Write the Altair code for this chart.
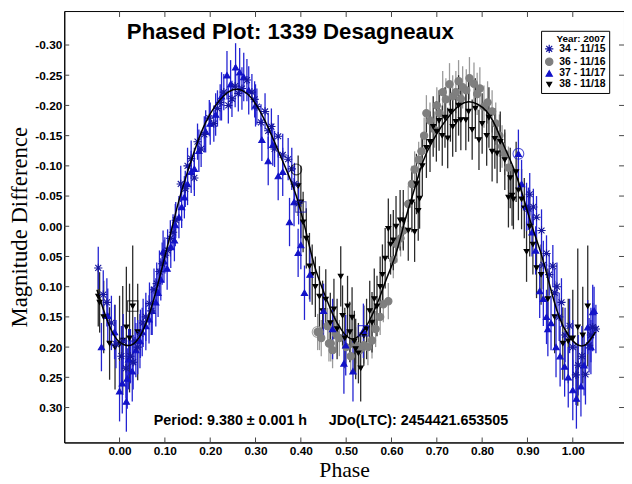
import altair as alt
import pandas as pd

# ---------------- data ----------------
series_names = ["34 - 11/15", "36 - 11/16", "37 - 11/17", "38 - 11/18"]

# 34 - 11/15 (blue asterisks)
ph_34 = [-0.047, -0.036, -0.028, -0.018, -0.008, 0.004, 0.008, 0.014, 0.024, 0.030, 0.034, 0.040,
         0.046, 0.052, 0.058, 0.066, 0.070, 0.076, 0.082, 0.088, 0.094, 0.100, 0.106, 0.112, 0.118,
         0.124, 0.135, 0.145, 0.150, 0.158, 0.165, 0.172, 0.180, 0.187, 0.198, 0.208, 0.216, 0.222,
         0.230, 0.240, 0.248, 0.255, 0.262, 0.270, 0.281, 0.292, 0.298, 0.303, 0.312, 0.321, 0.328,
         0.335, 0.342, 0.350, 0.360, 0.372, 0.380, 0.386, 0.395,
         0.902, 0.905, 0.913, 0.920, 0.931, 0.935, 0.942, 0.948, 0.956, 0.960, 0.965, 0.970, 0.975,
         0.983, 0.993, 1.000, 1.007, 1.012, 1.020, 1.028, 1.036, 1.040, 1.044, 1.051]
mg_34 = [0.069, 0.113, 0.126, 0.160, 0.195, 0.215, 0.190, 0.235, 0.215, 0.225, 0.190, 0.200,
         0.178, 0.160, 0.150, 0.128, 0.140, 0.105, 0.095, 0.075, 0.062, 0.048, 0.040, 0.020, 0.010,
         -0.010, -0.070, -0.062, -0.100, -0.112, -0.080, -0.140, -0.128, -0.152, -0.179, -0.170, -0.195, -0.205,
         -0.222, -0.200, -0.211, -0.232, -0.220, -0.228, -0.242, -0.222, -0.210, -0.198, -0.172, -0.190, -0.158,
         -0.165, -0.128, -0.149, -0.118, -0.111, -0.095, -0.070, -0.038,
         -0.029, -0.053, -0.032, -0.015, 0.007, 0.064, 0.045, 0.080, 0.066, 0.110, 0.100, 0.150, 0.126,
         0.180, 0.165, 0.200, 0.246, 0.230, 0.215, 0.245, 0.197, 0.180, 0.167, 0.170]
er_34 = [0.035, 0.040, 0.040, 0.045, 0.040, 0.050, 0.045, 0.050, 0.045, 0.045, 0.040, 0.045,
         0.040, 0.040, 0.040, 0.035, 0.040, 0.035, 0.035, 0.035, 0.035, 0.030, 0.035, 0.030, 0.030,
         0.030, 0.030, 0.030, 0.030, 0.030, 0.030, 0.030, 0.030, 0.030, 0.030, 0.030, 0.030, 0.030,
         0.030, 0.030, 0.030, 0.035, 0.030, 0.035, 0.035, 0.030, 0.030, 0.030, 0.030, 0.030, 0.030,
         0.030, 0.030, 0.035, 0.035, 0.035, 0.035, 0.035, 0.035,
         0.035, 0.035, 0.030, 0.035, 0.035, 0.040, 0.030, 0.035, 0.035, 0.040, 0.040, 0.040, 0.040,
         0.045, 0.045, 0.045, 0.050, 0.050, 0.050, 0.050, 0.045, 0.045, 0.040, 0.040]

# 36 - 11/16 (grey circles)
ph_36 = [0.437, 0.441, 0.445, 0.459, 0.462, 0.466, 0.470, 0.477, 0.485, 0.500, 0.510, 0.521, 0.530,
         0.539, 0.548, 0.557, 0.565, 0.575, 0.582, 0.593, 0.604, 0.612, 0.620, 0.626, 0.637, 0.645,
         0.651, 0.660, 0.666, 0.672, 0.677, 0.685, 0.695, 0.700, 0.706, 0.713, 0.720, 0.728, 0.735,
         0.742, 0.748, 0.753, 0.757, 0.765, 0.772, 0.782, 0.789, 0.795, 0.804, 0.812, 0.822, 0.830,
         0.838, 0.844, 0.850, 0.858]
mg_36 = [0.175, 0.175, 0.185, 0.165, 0.194, 0.194, 0.205, 0.178, 0.185, 0.200, 0.215, 0.197, 0.205,
         0.197, 0.200, 0.189, 0.170, 0.150, 0.129, 0.124, 0.056, 0.030, 0.020, 0.007, -0.037, -0.070,
         -0.094, -0.110, -0.124, -0.150, -0.187, -0.175, -0.160, -0.200, -0.187, -0.222, -0.210, -0.235, -0.215,
         -0.222, -0.240, -0.211, -0.230, -0.225, -0.245, -0.236, -0.219, -0.228, -0.198, -0.205, -0.190, -0.170,
         -0.150, -0.132, -0.120, -0.097]
er_36 = [0.030, 0.030, 0.030, 0.030, 0.030, 0.030, 0.030, 0.030, 0.030, 0.030, 0.030, 0.030, 0.030,
         0.030, 0.030, 0.030, 0.030, 0.030, 0.030, 0.030, 0.030, 0.030, 0.030, 0.030, 0.030, 0.030,
         0.030, 0.030, 0.030, 0.030, 0.030, 0.030, 0.030, 0.030, 0.030, 0.035, 0.035, 0.035, 0.035,
         0.035, 0.035, 0.035, 0.035, 0.035, 0.035, 0.035, 0.035, 0.035, 0.035, 0.035, 0.035, 0.035,
         0.035, 0.035, 0.035, 0.035]

# 37 - 11/17 (blue up-triangles)
ph_37 = [-0.040, -0.026, -0.011, 0.000, 0.006, 0.015, 0.017, 0.020, 0.028, 0.036, 0.045, 0.050,
         0.058, 0.065, 0.072, 0.080, 0.085, 0.091, 0.096, 0.098, 0.105, 0.113, 0.121, 0.123, 0.131,
         0.137, 0.143, 0.150, 0.158, 0.165, 0.175, 0.190, 0.200, 0.212, 0.225, 0.237, 0.245, 0.256,
         0.265, 0.274, 0.285, 0.300, 0.314, 0.328, 0.338, 0.350, 0.360, 0.375, 0.385, 0.394, 0.400,
         0.408, 0.420, 0.450, 0.470, 0.495, 0.499, 0.515, 0.538,
         0.880, 0.887, 0.898, 0.910, 0.918, 0.927, 0.935, 0.942, 0.945, 0.952, 0.963, 0.972, 0.982,
         0.990, 1.000, 1.008, 1.018, 1.025, 1.033, 1.040, 1.044, 1.047]
mg_37 = [0.200, 0.148, 0.175, 0.273, 0.260, 0.290, 0.252, 0.220, 0.240, 0.205, 0.190, 0.175,
         0.165, 0.154, 0.140, 0.126, 0.110, 0.088, 0.042, 0.058, 0.070, 0.034, 0.023, -0.002, -0.015,
         -0.032, -0.048, -0.070, -0.090, -0.095, -0.125, -0.157, -0.170, -0.185, -0.215, -0.250, -0.235, -0.263,
         -0.255, -0.247, -0.225, -0.200, -0.143, -0.108, -0.135, -0.083, -0.090, -0.007, -0.040, 0.044, 0.031,
         0.110, 0.080, 0.140, 0.170, 0.227, 0.197, 0.240, 0.173,
         -0.120, -0.070, -0.032, 0.010, 0.040, 0.107, 0.120, 0.150, 0.170, 0.160, 0.200, 0.215, 0.232,
         0.250, 0.271, 0.285, 0.265, 0.230, 0.167, 0.200, 0.142, 0.140]
er_37 = [0.040, 0.045, 0.045, 0.050, 0.050, 0.050, 0.050, 0.050, 0.050, 0.045, 0.045, 0.040,
         0.040, 0.040, 0.040, 0.040, 0.040, 0.035, 0.035, 0.035, 0.035, 0.035, 0.035, 0.035, 0.035,
         0.035, 0.035, 0.035, 0.035, 0.035, 0.035, 0.035, 0.035, 0.035, 0.040, 0.040, 0.040, 0.040,
         0.040, 0.040, 0.040, 0.035, 0.035, 0.040, 0.035, 0.040, 0.040, 0.040, 0.040, 0.040, 0.040,
         0.045, 0.045, 0.045, 0.050, 0.050, 0.050, 0.050, 0.045,
         0.040, 0.040, 0.040, 0.040, 0.040, 0.045, 0.045, 0.045, 0.045, 0.045, 0.050, 0.050, 0.050,
         0.050, 0.050, 0.050, 0.050, 0.050, 0.045, 0.045, 0.045, 0.040]

# 38 - 11/18 (black down-triangles)
ph_38 = [-0.047, -0.044, -0.035, -0.022, -0.010, 0.000, 0.007, 0.015, 0.022, 0.029, 0.040,
         0.394, 0.400, 0.405, 0.412, 0.419, 0.425, 0.432, 0.441, 0.448, 0.455, 0.465, 0.473, 0.480,
         0.488, 0.492, 0.497, 0.503, 0.508, 0.513, 0.518, 0.521, 0.527, 0.532, 0.539, 0.545, 0.552,
         0.557, 0.562, 0.568, 0.575, 0.580, 0.586, 0.593, 0.598, 0.604, 0.610, 0.619, 0.626, 0.637,
         0.645, 0.651, 0.655, 0.659, 0.662, 0.668, 0.677, 0.685, 0.692, 0.699, 0.705, 0.712, 0.718,
         0.724, 0.730, 0.735, 0.742, 0.748, 0.753, 0.764, 0.770, 0.778, 0.785, 0.793, 0.800, 0.810,
         0.815, 0.822, 0.828, 0.833, 0.840, 0.850, 0.858, 0.862, 0.866, 0.869, 0.875, 0.880, 0.887,
         0.893, 0.898, 0.905, 0.912, 0.920, 0.930, 0.945, 0.960, 0.978, 0.990, 1.000, 1.011, 1.022, 1.033]
mg_38 = [0.116, 0.126, 0.150, 0.194, 0.200, 0.195, 0.189, 0.167, 0.185, 0.132, 0.175,
         -0.067, -0.040, -0.007, 0.020, 0.066, 0.080, 0.100, 0.116, 0.140, 0.121, 0.160, 0.137, 0.170,
         0.083, 0.148, 0.185, 0.132, 0.175, 0.151, 0.190, 0.203, 0.210, 0.235, 0.181, 0.170, 0.140,
         0.159, 0.120, 0.132, 0.100, 0.080, 0.053, 0.004, 0.030, 0.023, 0.000, -0.010, -0.010, 0.007,
         -0.040, 0.009, -0.070, -0.026, -0.046, -0.100, -0.130, -0.140, -0.165, -0.157, -0.175, -0.150, -0.180,
         -0.146, -0.190, -0.165, -0.173, -0.200, -0.176, -0.176, -0.190, -0.160, -0.195, -0.143, -0.170, -0.150,
         -0.180, -0.124, -0.145, -0.121, -0.140, -0.110, -0.048, -0.080, -0.051, -0.045, -0.090, -0.060, -0.045,
         -0.030, 0.042, 0.000, 0.030, 0.069, 0.080, 0.120, 0.150, 0.194, 0.190, 0.185, 0.167, 0.180, 0.132]
er_38 = [0.050, 0.050, 0.060, 0.060, 0.070, 0.080, 0.090, 0.100, 0.090, 0.100, 0.080,
         0.050, 0.060, 0.050, 0.050, 0.055, 0.050, 0.050, 0.050, 0.050, 0.050, 0.050, 0.050, 0.050,
         0.050, 0.050, 0.050, 0.050, 0.050, 0.050, 0.050, 0.050, 0.050, 0.055, 0.050, 0.050, 0.050,
         0.050, 0.050, 0.050, 0.050, 0.050, 0.050, 0.050, 0.050, 0.050, 0.050, 0.050, 0.050, 0.050,
         0.050, 0.050, 0.050, 0.050, 0.050, 0.050, 0.050, 0.050, 0.050, 0.050, 0.050, 0.050, 0.050,
         0.050, 0.050, 0.050, 0.050, 0.050, 0.050, 0.050, 0.050, 0.050, 0.050, 0.050, 0.050, 0.050,
         0.050, 0.050, 0.050, 0.050, 0.050, 0.050, 0.050, 0.050, 0.050, 0.050, 0.050, 0.050, 0.050,
         0.050, 0.050, 0.050, 0.050, 0.050, 0.050, 0.050, 0.060, 0.060, 0.070, 0.080, 0.130, 0.080, 0.100]

# Fourier fit curve
fit_phase = [-0.05, -0.03, -0.01, 0.01, 0.03, 0.05, 0.07, 0.09, 0.11, 0.13, 0.15, 0.17, 0.19, 0.21,
             0.23, 0.25, 0.27, 0.29, 0.31, 0.33, 0.35, 0.37, 0.39, 0.41, 0.43, 0.45, 0.47, 0.49, 0.51,
             0.53, 0.55, 0.57, 0.59, 0.61, 0.63, 0.65, 0.67, 0.69, 0.71, 0.73, 0.75, 0.77, 0.79, 0.81,
             0.83, 0.85, 0.87, 0.89, 0.91, 0.93, 0.95, 0.97, 0.99, 1.01, 1.03, 1.05]
fit_mag = [0.105, 0.150, 0.183, 0.196, 0.195, 0.175, 0.135, 0.080, 0.020, -0.040, -0.090, -0.135,
           -0.172, -0.198, -0.216, -0.226, -0.225, -0.213, -0.190, -0.160, -0.125, -0.090, -0.050,
           0.005, 0.065, 0.108, 0.145, 0.172, 0.186, 0.180, 0.158, 0.125, 0.085, 0.045, -0.010,
           -0.060, -0.108, -0.140, -0.165, -0.185, -0.200, -0.206, -0.202, -0.190, -0.165, -0.130,
           -0.095, -0.050, 0.000, 0.045, 0.100, 0.150, 0.180, 0.196, 0.195, 0.175]

# highlighted (boxed / ringed) observations
sq_phase = [0.029, 0.400, 0.538]
sq_mag = [0.132, -0.032, 0.173]
sq_series = ["38 - 11/18", "34 - 11/15", "37 - 11/17"]
ring_phase = [0.390, 0.880, 0.437]
ring_mag = [-0.094, -0.120, 0.175]
ring_series = ["38 - 11/18", "37 - 11/17", "36 - 11/16"]

x_ticks = [0.0, 0.1, 0.2, 0.3, 0.4, 0.5, 0.6, 0.7, 0.8, 0.9, 1.0]
y_ticks = [-0.30, -0.25, -0.20, -0.15, -0.10, -0.05, 0.0, 0.05, 0.10, 0.15, 0.20, 0.25, 0.30]

title_text = "Phased Plot: 1339 Desagneaux"
period_text = "Period: 9.380 \u00b1 0.001 h"
jd_text = "JDo(LTC): 2454421.653505"

# ---------------- build tables ----------------
def table(name, ph, mg, er):
    return pd.DataFrame({"series": name, "phase": ph, "mag": mg, "err": er})

obs = pd.concat([
    table("36 - 11/16", ph_36, mg_36, er_36),
    table("38 - 11/18", ph_38, mg_38, er_38),
    table("37 - 11/17", ph_37, mg_37, er_37),
    table("34 - 11/15", ph_34, mg_34, er_34),
], ignore_index=True)
fit = pd.DataFrame({"phase": fit_phase, "mag": fit_mag})
squares = pd.DataFrame({"phase": sq_phase, "mag": sq_mag, "series": sq_series})
rings = pd.DataFrame({"phase": ring_phase, "mag": ring_mag, "series": ring_series})
xt = pd.DataFrame({"phase": x_ticks})
yt = pd.DataFrame({"mag": y_ticks})
one = pd.DataFrame({"a": [0]})

# ---------------- styling ----------------
W, H = 567, 437
SANS = "Liberation Sans"
SERIF = "Liberation Serif"
ASTER = "M-1,0L1,0M0,-1L0,1M-0.72,-0.72L0.72,0.72M-0.72,0.72L0.72,-0.72"

pt_colors = ["#16169e", "#7f7f7f", "#1212c8", "#000000"]
bar_colors = ["#2323d2", "#9a9a9a", "#2323d2", "#2a2a2a"]
shapes = [ASTER, "circle", "triangle-up", "triangle-down"]
sizes = [70, 24, 40, 40]

xs = alt.Scale(domain=[-0.122, 1.113], nice=False, zero=False)
ys = alt.Scale(domain=[-0.3562, 0.3578], reverse=True, nice=False, zero=False)

xaxis = alt.Axis(values=x_ticks, format=".2f", title="Phase", grid=False, ticks=False,
                 labelFont=SANS, labelFontSize=12, labelFontWeight="bold", labelColor="black",
                 labelPadding=3, domainColor="black",
                 titleFont=SERIF, titleFontSize=22, titleFontWeight="normal", titleColor="black",
                 titleY=18, titleBaseline="top")
yaxis = alt.Axis(values=y_ticks, title="Magnitude Difference", grid=False, ticks=False,
                 labelExpr="replace(format(datum.value, '.2f'), '\u2212', '-')",
                 labelFont=SANS, labelFontSize=12, labelFontWeight="bold", labelColor="black",
                 labelPadding=2.5, domainColor="black",
                 titleFont=SERIF, titleFontSize=23, titleFontWeight="normal", titleColor="black",
                 titleX=-45, titleY=H / 2, titleBaseline="middle", titleAngle=270)

X = alt.X("phase:Q", scale=xs, axis=xaxis)
Y = alt.Y("mag:Q", scale=ys, axis=yaxis)

legend = alt.Legend(title="Year: 2007", orient="none", legendX=483, legendY=20,
                    padding=3, fillColor="white", strokeColor="black",
                    titleFont=SANS, titleFontSize=10, titleFontWeight="bold", titleColor="black",
                    titleAnchor="end", titlePadding=0,
                    labelFont=SANS, labelFontSize=10.5, labelFontWeight="bold", labelColor="black",
                    labelOffset=5, symbolSize=45, symbolStrokeWidth=1.2, rowPadding=0)

pt_scale = alt.Scale(domain=series_names, range=pt_colors)

bars = alt.Chart(obs).transform_calculate(
    lo="datum.mag - datum.err", hi="datum.mag + datum.err"
).mark_rule(strokeWidth=1.3).encode(
    x=X,
    y=alt.Y("lo:Q", scale=ys, axis=yaxis),
    y2="hi:Q",
    color=alt.Color("series:N", scale=alt.Scale(domain=series_names, range=bar_colors), legend=None),
)

points = alt.Chart(obs).mark_point(filled=True, strokeWidth=1.1, opacity=1).encode(
    x=X, y=Y,
    color=alt.Color("series:N", scale=pt_scale, legend=legend),
    stroke=alt.Stroke("series:N", scale=pt_scale, legend=legend),
    shape=alt.Shape("series:N", scale=alt.Scale(domain=series_names, range=shapes), legend=legend),
    size=alt.Size("series:N", scale=alt.Scale(domain=series_names, range=sizes), legend=None),
)

fit_line = alt.Chart(fit).mark_line(color="black", strokeWidth=1.5, interpolate="natural").encode(x=X, y=Y)

sq_layer = alt.Chart(squares).mark_point(shape="square", filled=False, size=110, strokeWidth=1.1).encode(
    x=X, y=Y, color=alt.Color("series:N", scale=pt_scale, legend=None))
ring_layer = alt.Chart(rings).mark_point(shape="circle", filled=False, size=120, strokeWidth=1.1).encode(
    x=X, y=Y, color=alt.Color("series:N", scale=pt_scale, legend=None))

top_ticks = alt.Chart(xt).mark_rule(color="#444").encode(x=X, y=alt.value(0), y2=alt.value(6))
bottom_ticks = alt.Chart(xt).mark_rule(color="#444").encode(x=X, y=alt.value(H - 5), y2=alt.value(H))
left_ticks = alt.Chart(yt).mark_rule(color="#444").encode(y=Y, x=alt.value(0), x2=alt.value(5))
right_ticks = alt.Chart(yt).mark_rule(color="#444").encode(y=Y, x=alt.value(W - 5), x2=alt.value(W))

title = alt.Chart(one).mark_text(text=title_text, font=SANS, fontSize=22.5, fontWeight="bold",
                                 color="black", align="center", baseline="middle").encode(
    x=alt.value(229), y=alt.value(21.5))
period = alt.Chart(one).mark_text(text=period_text, font=SANS, fontSize=14.5, fontWeight="bold",
                                  color="black", align="right", baseline="middle").encode(
    x=alt.value(246), y=alt.value(415))
jd = alt.Chart(one).mark_text(text=jd_text, font=SANS, fontSize=14.5, fontWeight="bold",
                              color="black", align="left", baseline="middle").encode(
    x=alt.value(268), y=alt.value(415))

chart = alt.layer(
    bars, points, fit_line, sq_layer, ring_layer,
    top_ticks, bottom_ticks, left_ticks, right_ticks, title, period, jd
).resolve_scale(
    color="independent", stroke="independent", shape="independent", size="independent"
).properties(
    width=W, height=H,
    autosize=alt.AutoSizeParams(type="none"),
    padding={"left": 57, "top": 0, "right": 0, "bottom": 39},
    background="white",
).configure_view(stroke="black", strokeWidth=1)

chart.save("out.html", embed_options={"renderer": "svg", "actions": False})
